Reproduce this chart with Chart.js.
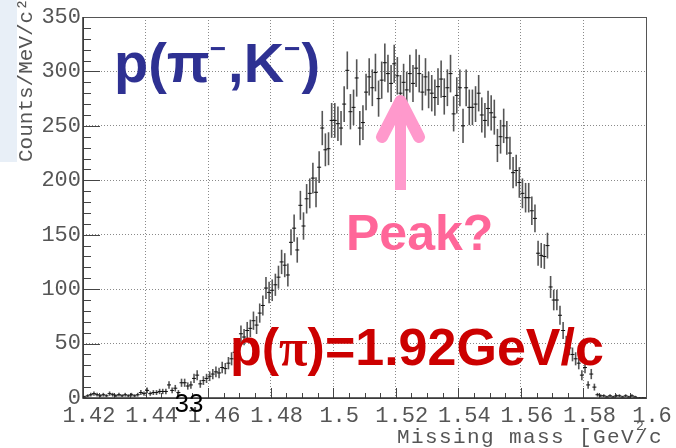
<!DOCTYPE html>
<html lang="en">
<head>
<meta charset="UTF-8">
<title>Missing mass p(pi-,K-)</title>
<script src="https://cdn.jsdelivr.net/npm/chart.js"></script>
<style>
  html, body { margin: 0; padding: 0; background: #fff; }
  canvas { display: block; }
</style>
</head>
<body>
<canvas id="massChart" width="676" height="448"></canvas>
<script>
// histogram binning: 1 MeV bins starting at 1.42 GeV
const binLow = 1.42;
const binWidth = 0.001;

// counts per MeV/c2, one value per bin
const counts = [
  1, 2, 3, 4, 3, 2, 3, 2, 4, 3, 2, 3, 2, 3, 2, 3, 2, 3, 5, 4,
  7, 4, 5, 5, 6, 6, 6, 12, 7, 9, 5, 14, 14, 11, 12, 18, 21, 13, 16, 18,
  20, 22, 24, 23, 28, 27, 32, 36, 42, 47, 59, 56, 62, 64, 71, 67, 78, 85, 101, 97,
  99, 104, 111, 125, 122, 113, 143, 156, 136, 177, 158, 183, 188, 202, 189, 212, 248, 228, 229, 255,
  255, 252, 248, 270, 301, 263, 267, 294, 248, 253, 281, 295, 285, 299, 275, 292, 308, 298, 289, 307,
  296, 280, 290, 283, 298, 289, 303, 298, 281, 295, 283, 280, 276, 286, 293, 277, 285, 298, 261, 278,
  285, 250, 285, 267, 267, 270, 280, 260, 255, 266, 262, 258, 232, 240, 250, 239, 225, 207, 209, 198,
  188, 184, 184, 172, 165, 133, 131, 130, 140, 102, 90, 90, 76, 62, 50, 46, 40, 36, 32, 21,
  28, 12, 22, 10, 3, 2, 2, 1, 2, 1, 2, 2, 1, 2, 1, 2, 1, 0, 0, 0
];

// axis ticks
const xTicks = [1.42, 1.44, 1.46, 1.48, 1.5, 1.52, 1.54, 1.56, 1.58, 1.6];
const yTicks = [0, 50, 100, 150, 200, 250, 300, 350];

const axisFont = { family: 'Liberation Mono', size: 22 };
const axisColor = '#555';

// statistical (sqrt N) error bars under the markers
const errorBars = {
  id: 'errorBars',
  beforeDatasetsDraw(chart) {
    const { ctx, chartArea: a, scales: { x, y } } = chart;
    ctx.save();
    ctx.beginPath();
    ctx.rect(a.left, a.top, a.width, a.height);
    ctx.clip();
    ctx.strokeStyle = '#555';
    ctx.lineWidth = 1.6;
    counts.forEach((c, i) => {
      if (!c) return;
      const err = Math.sqrt(c);
      const px = x.getPixelForValue(binLow + (i + 0.5) * binWidth);
      ctx.beginPath();
      ctx.moveTo(px, y.getPixelForValue(c - err));
      ctx.lineTo(px, y.getPixelForValue(c + err));
      ctx.stroke();
    });
    ctx.restore();
  }
};

// frame and ROOT-style inner ticks
const frame = {
  id: 'frame',
  beforeDatasetsDraw(chart) {
    const { ctx, chartArea: a, scales: { x, y } } = chart;
    ctx.save();
    ctx.strokeStyle = '#444';
    ctx.lineWidth = 1;
    ctx.beginPath();
    for (let v = 0; v <= 350; v += 10) {
      const py = Math.round(y.getPixelForValue(v)) + 0.5;
      ctx.moveTo(a.left, py);
      ctx.lineTo(a.left + (v % 50 === 0 ? 17 : 8), py);
    }
    for (let k = 0; k <= 36; k++) {
      const px = Math.round(x.getPixelForValue(1.42 + k * 0.005)) + 0.5;
      ctx.moveTo(px, a.bottom);
      ctx.lineTo(px, a.bottom - (k % 4 === 0 ? 10 : 5));
    }
    ctx.stroke();
    ctx.strokeStyle = '#555';
    ctx.strokeRect(a.left + 0.5, a.top + 0.5, a.width, a.height);
    ctx.lineWidth = 1.5;
    ctx.strokeStyle = '#333';
    ctx.beginPath();
    ctx.moveTo(a.left, a.top);
    ctx.lineTo(a.left, a.bottom);
    ctx.lineTo(a.right, a.bottom);
    ctx.stroke();
    ctx.restore();
  }
};

function drawRuns(ctx, runs, x, y) {
  for (const r of runs) {
    ctx.font = r.font;
    ctx.fillStyle = r.color;
    ctx.fillText(r.text, x, y + (r.dy || 0));
    x += ctx.measureText(r.text).width + (r.gap || 0);
  }
}

// slide annotations and axis titles
const overlay = {
  id: 'overlay',
  beforeDraw(chart) {
    const ctx = chart.ctx;
    ctx.save();
    ctx.fillStyle = '#e8eff7';
    ctx.fillRect(0, 0, 17, 162);
    ctx.restore();
  },
  afterDraw(chart) {
    const ctx = chart.ctx;
    ctx.save();
    ctx.textBaseline = 'alphabetic';
    ctx.textAlign = 'left';

    // axis titles
    ctx.fillStyle = axisColor;
    ctx.font = '21px "Liberation Mono"';
    ctx.letterSpacing = '1.4px';
    ctx.fillText('Missing mass [GeV/c', 397, 443);
    ctx.font = '13px "Liberation Mono"';
    ctx.fillText('2', 636, 430);
    ctx.save();
    ctx.translate(32, 162);
    ctx.rotate(-Math.PI / 2);
    ctx.font = '21px "Liberation Mono"';
    ctx.letterSpacing = '0px';
    ctx.fillText('Counts/MeV/c\u00b2', 0, 0);
    ctx.restore();
    ctx.letterSpacing = '0px';

    // pink arrow
    ctx.strokeStyle = '#ff99cc';
    ctx.fillStyle = '#ff99cc';
    ctx.fillRect(395, 104, 11, 86);
    ctx.lineWidth = 12;
    ctx.lineCap = 'round';
    ctx.lineJoin = 'round';
    ctx.beginPath();
    ctx.moveTo(382, 137);
    ctx.lineTo(400.5, 101);
    ctx.lineTo(419, 137);
    ctx.stroke();

    const blue = '#2e3192';
    drawRuns(ctx, [
      { text: 'p(\u03c0', font: 'bold 56px "Liberation Sans"', color: blue },
      { text: '\u2212', font: 'bold 28px "Liberation Sans"', color: blue, dy: -24, gap: 2 },
      { text: ',K', font: 'bold 56px "Liberation Sans"', color: blue },
      { text: '\u2212', font: 'bold 28px "Liberation Sans"', color: blue, dy: -24, gap: 1 },
      { text: ')', font: 'bold 56px "Liberation Sans"', color: blue }
    ], 114, 82);

    ctx.fillStyle = '#ff6699';
    ctx.font = 'bold 50px "Liberation Sans"';
    ctx.fillText('Peak?', 346, 250);

    const red = '#cc0000';
    drawRuns(ctx, [
      { text: 'p(', font: 'bold 52px "Liberation Sans"', color: red },
      { text: '\u03c0', font: 'bold 52px "Liberation Serif"', color: red },
      { text: ')=1.92GeV/c', font: 'bold 52px "Liberation Sans"', color: red }
    ], 230, 365);

    ctx.fillStyle = '#000';
    ctx.font = '26px "Liberation Sans"';
    ctx.textAlign = 'center';
    ctx.fillText('33', 189, 412);
    ctx.restore();
  }
};

const points = counts.map((c, i) => ({ x: binLow + (i + 0.5) * binWidth, y: c }));

new Chart(document.getElementById('massChart'), {
  type: 'scatter',
  data: {
    datasets: [{
      label: 'Missing mass',
      data: points,
      pointStyle: 'line',
      pointRadius: 2,
      borderColor: '#111',
      borderWidth: 1,
      backgroundColor: '#111'
    }]
  },
  options: {
    responsive: false,
    animation: false,
    devicePixelRatio: 1,
    layout: { padding: { left: 0, top: 17, right: 30, bottom: 0 } },
    plugins: {
      legend: { display: false },
      tooltip: { enabled: false }
    },
    scales: {
      x: {
        type: 'linear',
        min: 1.42,
        max: 1.6,
        afterBuildTicks: axis => { axis.ticks = xTicks.map(v => ({ value: v })); },
        afterFit: axis => { axis.height = 50; },
        ticks: {
          font: axisFont,
          color: axisColor,
          padding: 5,
          labelOffset: 6,
          maxRotation: 0,
          autoSkip: false,
          callback: v => String(+v.toFixed(2))
        },
        grid: { color: '#8a8a8a', lineWidth: 1, drawTicks: false },
        border: { display: false, dash: [1, 2] }
      },
      y: {
        min: 0,
        max: 350,
        afterBuildTicks: axis => { axis.ticks = yTicks.map(v => ({ value: v })); },
        afterFit: axis => { axis.width = 83; },
        ticks: {
          font: axisFont,
          color: axisColor,
          padding: 2,
          callback: v => String(v)
        },
        grid: { color: '#8a8a8a', lineWidth: 1, drawTicks: false },
        border: { display: false, dash: [1, 2] }
      }
    }
  },
  plugins: [overlay, frame, errorBars]
});
</script>
</body>
</html>
